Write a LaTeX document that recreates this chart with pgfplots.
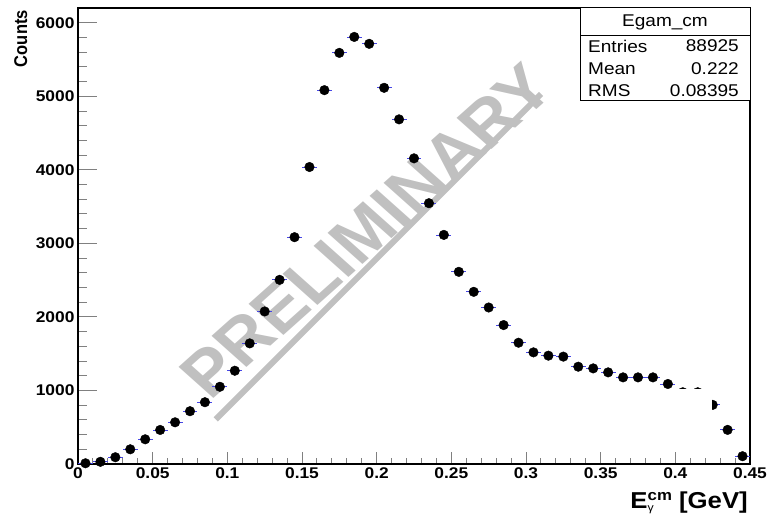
\documentclass[border=0pt]{standalone}
\usepackage{pgfplots}
\pgfplotsset{compat=1.18}
\usepackage{fontspec}
\setmainfont{Liberation Sans}[FakeStretch=1.12]
\newfontfamily\plainsans{Liberation Sans}

\definecolor{wmgray}{RGB}{192,192,192}
\definecolor{errblue}{RGB}{70,70,230}

% photon energy spectrum in the c.m. frame, 0.01 GeV bins
\pgfplotstableread{
x      y
0.005  10
0.015  30
0.025  92
0.035  200
0.045  336
0.055  463
0.065  567
0.075  718
0.085  840
0.095  1050
0.105  1268
0.115  1640
0.125  2074
0.135  2504
0.145  3084
0.155  4038
0.165  5083
0.175  5590
0.185  5807
0.195  5713
0.205  5115
0.215  4686
0.225  4156
0.235  3546
0.245  3115
0.255  2613
0.265  2341
0.275  2128
0.285  1889
0.295  1649
0.305  1518
0.315  1473
0.325  1460
0.335  1323
0.345  1300
0.355  1246
0.365  1178
0.375  1178
0.385  1178
0.395  1088
0.405  975
0.415  975
0.425  804
0.435  464
0.445  106
}\egamcm

\begin{document}
\begin{tikzpicture}[x=1pt,y=1pt]
\path[use as bounding box] (-78,-59) rectangle (696,464);

% watermark
\begin{scope}[xscale=1.12]
  \node[transform shape, rotate=45, anchor=base, text=wmgray, inner sep=0pt,
        font=\plainsans\bfseries\fontsize{64}{64}\selectfont] at (273,218) {PRELIMINARY};
\end{scope}
\draw[wmgray, line width=6] (137.7,44.6) -- (463,370);

\begin{axis}[
  at={(0,0)}, anchor=south west,
  scale only axis, width=672pt, height=456pt,
  xmin=0, xmax=0.45, ymin=0, ymax=6200,
  axis line style={line width=1.1pt},
  tick align=inside,
  xtick pos=bottom, ytick pos=left,
  xtick={0,0.05,0.1,0.15,0.2,0.25,0.3,0.35,0.4,0.45},
  xticklabels={0,0.05,0.1,0.15,0.2,0.25,0.3,0.35,0.4,0.45},
  ytick={0,1000,2000,3000,4000,5000,6000},
  yticklabels={0,1000,2000,3000,4000,5000,6000},
  minor x tick num=4, minor y tick num=4,
  major tick length=15pt, minor tick length=7pt,
  xtick style={line width=0.9pt, /pgfplots/major tick length=12pt, /pgfplots/minor tick length=6pt},
  ytick style={line width=0.9pt, /pgfplots/major tick length=19pt, /pgfplots/minor tick length=9pt},
  tick label style={font=\bfseries\fontsize{15.5}{18}\selectfont},
  /pgf/number format/assume math mode=true,
  clip=false,
]
\addplot[only marks, mark=*, mark size=4.8pt, mark options={fill=black, draw=black},
  error bars/.cd, x dir=both, x fixed=0.005,
  error bar style={errblue, line width=0.8pt}, error mark=none]
  table[x=x, y=y] {\egamcm};
\end{axis}

% region masked out in the lower right
\fill[white] (491,31) rectangle (634,75);

% statistics box
\draw[fill=white, line width=1] (502,363) rectangle (672,456);
\draw[line width=1] (502,428) -- (672,428);
\begin{scope}[every node/.style={inner sep=0pt, font=\fontsize{17}{18}\selectfont}]
  \node at (587,442) {Egam\_cm};
  \node[anchor=west] at (510,418) {Entries};
  \node[anchor=east] at (661,418) {88925};
  \node[anchor=west] at (510,395) {Mean};
  \node[anchor=east] at (661,395) {0.222};
  \node[anchor=west] at (510,373) {RMS};
  \node[anchor=east] at (661,373) {0.08395};
\end{scope}

% axis titles
\node[anchor=base east, inner sep=0pt] at (670,-44)
  {\fontsize{23}{26}\selectfont\bfseries E\rlap{\raisebox{-3pt}{\fontsize{11}{11}\selectfont\mdseries γ}}\raisebox{8pt}{\fontsize{15}{15}\selectfont cm}\ [GeV]};
\begin{scope}[xscale=1.12]
  \node[transform shape, rotate=90, anchor=base east, inner sep=0pt,
        font=\plainsans\bfseries\fontsize{16.5}{17}\selectfont] at (-45.5,454) {Counts};
\end{scope}
\end{tikzpicture}
\end{document}
